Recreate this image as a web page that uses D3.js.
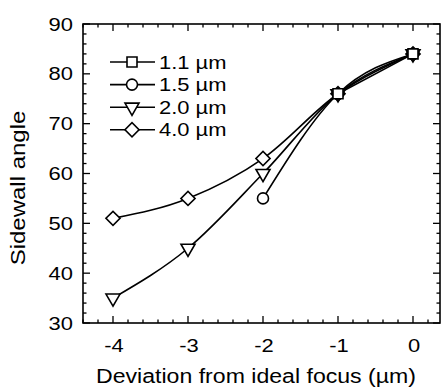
<!DOCTYPE html>
<html><head><meta charset="utf-8">
<script src="https://cdn.jsdelivr.net/npm/d3@7"></script>
<style>body{margin:0;background:#fff}svg{display:block}text{font-family:"Liberation Sans",Arial,sans-serif;fill:#000}</style>
</head><body><svg id="c" width="442" height="387"></svg>
<script>
const xValues = [-4, -3, -2, -1, 0];
const series = ["1.1 µm", "1.5 µm", "2.0 µm", "4.0 µm"];
const symbols = ["square", "circle", "triangle", "diamond"];
const s11 = [null, null, null, 76, 84];
const s15 = [null, null, 55, 76, 84];
const s20 = [35, 45, 60, 76, 84];
const s40 = [51, 55, 63, 76, 84];
const seriesValues = [s11, s15, s20, s40];
const xTicks = [-4, -3, -2, -1, 0];
const yTicks = [30, 40, 50, 60, 70, 80, 90];

const svg = d3.select("#c");
const L = 83, R = 440, T = 24, B = 323;
const x = d3.scaleLinear().domain([-4.4, 0.36]).range([L, R]);
const y = d3.scaleLinear().domain([30, 90]).range([B, T]);

// frame
svg.append("rect").attr("x", L).attr("y", T).attr("width", R - L).attr("height", B - T)
  .attr("fill", "none").attr("stroke", "#000").attr("stroke-width", 1.6);

// ticks
const xMinor = d3.range(-4.4, 0.37, 0.2).map(v => +v.toFixed(1));
const yMinor = d3.range(30, 91, 2);
function tick(x1, y1, x2, y2) {
  svg.append("line").attr("x1", x1).attr("y1", y1).attr("x2", x2).attr("y2", y2)
    .attr("stroke", "#000").attr("stroke-width", 1.3);
}
xMinor.forEach(v => {
  const major = Math.abs(v - Math.round(v)) < 1e-6;
  const len = major ? 7 : 3.5;
  tick(x(v), B, x(v), B - len);
  tick(x(v), T, x(v), T + len);
});
yMinor.forEach(v => {
  const major = v % 10 === 0;
  const len = major ? 7 : 3.5;
  tick(L, y(v), L + len, y(v));
  tick(R, y(v), R - len, y(v));
});

function stretched(parent, tx, ty, str, size, sx, anchor, rot) {
  const g = parent.append("g").attr("transform",
    `translate(${tx},${ty})` + (rot ? ` rotate(${rot})` : "") + ` scale(${sx},1)`);
  return g.append("text").attr("font-size", size).attr("text-anchor", anchor).text(str);
}

// tick labels
yTicks.forEach(v => stretched(svg, 73, y(v) + 6.5, String(v), 18, 1.22, "end"));
xTicks.forEach(v => stretched(svg, x(v) + 1, 352, String(v), 18, 1.22, "middle"));

// axis titles
stretched(svg, 256, 383, "Deviation from ideal focus (µm)", 21, 1.1, "middle");
stretched(svg, 25, 188, "Sidewall angle", 20, 1.2, "middle", -90);

// lines
const line = d3.line().defined(d => d[1] != null)
  .x(d => x(d[0])).y(d => y(d[1])).curve(d3.curveMonotoneX);
const symMap = {square: d3.symbolSquare, circle: d3.symbolCircle, triangle: d3.symbolTriangle, diamond: d3.symbolDiamond};
function drawSymbol(g, type, cx, cy) {
  let sz, rot = 0, sym = symMap[type];
  if (type === "square") sz = 100;
  else if (type === "circle") sz = 95;
  else if (type === "triangle") { sz = 85; rot = 180; }
  else { sz = 95; rot = 0; }
  if (type === "diamond") {
    g.append("rect").attr("x", -5).attr("y", -5).attr("width", 10).attr("height", 10)
      .attr("transform", `translate(${cx},${cy}) rotate(45)`)
      .attr("fill", "#fff").attr("stroke", "#000").attr("stroke-width", 1.6);
    return;
  }
  g.append("path").attr("d", d3.symbol().type(sym).size(sz)())
    .attr("transform", `translate(${cx},${cy}) rotate(${rot})`)
    .attr("fill", "#fff").attr("stroke", "#000").attr("stroke-width", 1.6);
}
const order = [3, 2, 1, 0];
order.forEach(i => {
  const pts = xValues.map((xv, j) => [xv, seriesValues[i][j]]);
  svg.append("path").attr("d", line(pts)).attr("fill", "none")
    .attr("stroke", "#000").attr("stroke-width", 1.6);
});
order.forEach(i => {
  const g = svg.append("g");
  xValues.forEach((xv, j) => {
    const v = seriesValues[i][j];
    if (v != null) drawSymbol(g, symbols[i], x(xv), y(v));
  });
});

// legend
series.forEach((name, i) => {
  const ly = 62 + i * 22.6;
  svg.append("line").attr("x1", 110).attr("x2", 155).attr("y1", ly).attr("y2", ly)
    .attr("stroke", "#000").attr("stroke-width", 1.6);
  drawSymbol(svg.append("g"), symbols[i], 132, ly);
  stretched(svg, 159, ly + 6.5, name, 18, 1.22, "start");
});
</script></body></html>
